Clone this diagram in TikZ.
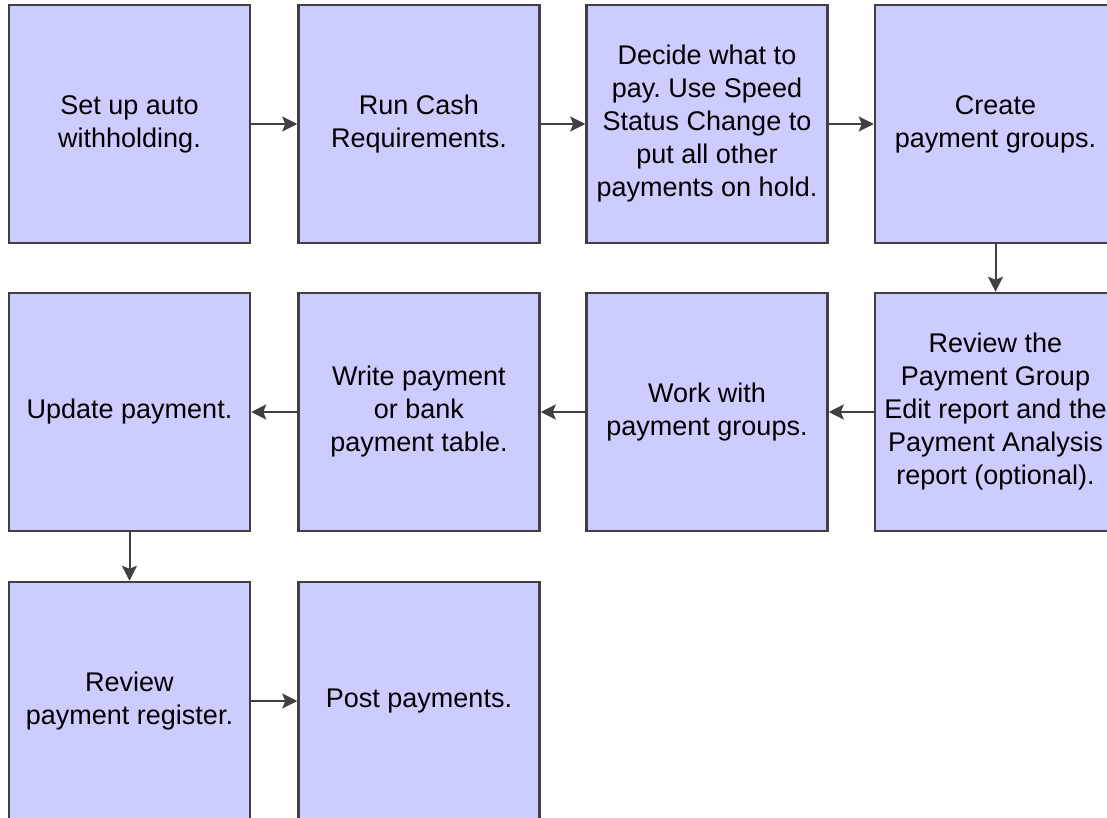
\documentclass[tikz,border=0pt]{standalone}
\usepackage{fontspec}
\setmainfont{Liberation Sans}
\frenchspacing
\usetikzlibrary{arrows.meta}
\definecolor{boxfill}{RGB}{204,204,255}
\definecolor{edge}{RGB}{64,64,64}
\tikzset{
  stepbox/.style={draw=edge, line width=2.5pt, fill=boxfill,
    minimum width=241pt, minimum height=238pt, inner sep=0pt,
    align=center, text=black,
    font=\fontsize{27}{33}\selectfont},
  flow/.style={draw=edge, line width=2pt,
    -{Stealth[length=15pt,width=15pt,inset=3pt]}}
}
\begin{document}
\begin{tikzpicture}[x=1pt,y=-1pt]
  \useasboundingbox (0,0) rectangle (1107,818);
  \clip (0,0) rectangle (1107,818);
  % first row
  \node[stepbox] (a1) at (129.5,124) {Set up auto\\withholding.};
  \node[stepbox] (a2) at (419,124) {Run Cash\\Requirements.};
  \node[stepbox] (a3) at (707,124) {Decide what to\\pay. Use Speed\\Status Change to\\put all other\\payments on hold.};
  \node[stepbox] (a4) at (995.5,124) {Create\\payment groups.};
  % second row
  \node[stepbox] (b4) at (995.5,412) {Review the\\Payment Group\\Edit report and the\\Payment Analysis\\report (optional).};
  \node[stepbox] (b3) at (707,412) {Work with\\payment groups.};
  \node[stepbox] (b2) at (419,412) {Write payment\\or bank\\payment table.};
  \node[stepbox] (b1) at (129.5,412) {Update payment.};
  % third row
  \node[stepbox] (c1) at (129.5,701) {Review\\payment register.};
  \node[stepbox] (c2) at (419,701) {Post payments.};
  % connectors
  \draw[flow] (a1.east) -- (a2.west);
  \draw[flow] (a2.east) -- (a3.west);
  \draw[flow] (a3.east) -- (a4.west);
  \draw[flow] (a4.south) -- (b4.north);
  \draw[flow] (b4.west) -- (b3.east);
  \draw[flow] (b3.west) -- (b2.east);
  \draw[flow] (b2.west) -- (b1.east);
  \draw[flow] (b1.south) -- (c1.north);
  \draw[flow] (c1.east) -- (c2.west);
\end{tikzpicture}
\end{document}
